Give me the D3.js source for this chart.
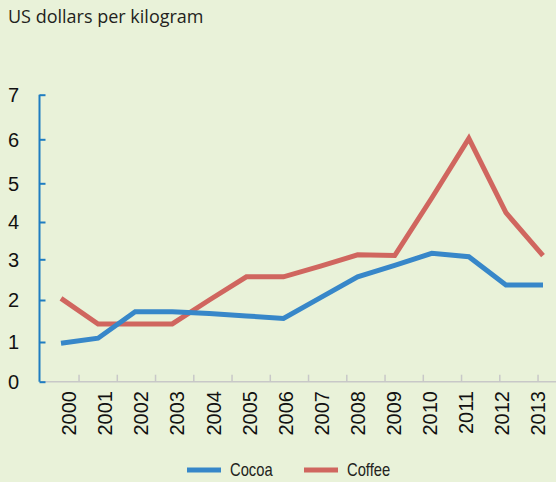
<!DOCTYPE html>
<html>
<head>
<meta charset="utf-8">
<script src="https://cdn.jsdelivr.net/npm/d3@7"></script>
<style>
  body { margin: 0; background: #e9f2d9; }
  svg { display: block; }
</style>
</head>
<body>
<div id="chart"></div>
<script>
var years = ["2000", "2001", "2002", "2003", "2004", "2005", "2006",
             "2007", "2008", "2009", "2010", "2011", "2012", "2013"];
var cocoa = [0.97, 1.09, 1.72, 1.72, 1.68, 1.62, 1.56, 2.06, 2.57, 2.85, 3.16, 3.07, 2.37, 2.37];
var coffee = [2.04, 1.43, 1.43, 1.43, 2.0, 2.57, 2.57, 2.83, 3.12, 3.10, 4.62, 6.02, 4.24, 3.10];
var yTicks = [0, 1, 2, 3, 4, 5, 6, 7];
var seriesNames = ["Cocoa", "Coffee"];

var width = 556, height = 482;

var svg = d3.select("#chart").append("svg")
    .attr("width", width)
    .attr("height", height);

svg.append("rect")
    .attr("width", width)
    .attr("height", height)
    .attr("fill", "#e9f2d9");

// the original axis is not quite evenly spaced, so map each tick to where it sits
var y = d3.scaleLinear()
    .domain(yTicks)
    .range([381.7, 342, 300, 259.3, 222, 183.3, 139.3, 94.7]);

var x = d3.scalePoint()
    .domain(years)
    .range([61, 543]);

// year labels and grey ticks don't line up exactly with the points in the original
var xLabel = d3.scalePoint()
    .domain(years)
    .range([69, 538]);

var xBand = d3.scaleBand()
    .domain(years)
    .range([40.8, 576.3]);

svg.append("text")
    .attr("x", 8)
    .attr("y", 23)
    .style("font-family", "'Open Sans', sans-serif")
    .style("font-size", "18px")
    .attr("fill", "#231f20")
    .text("US dollars per kilogram");

// x axis line + ticks
svg.append("line")
    .attr("x1", 40).attr("x2", width)
    .attr("y1", y(0)).attr("y2", y(0))
    .attr("stroke", "#c8c8c8")
    .attr("stroke-width", 1.5);

svg.append("g")
    .selectAll("line")
    .data(years.slice(1))
    .enter().append("line")
    .attr("x1", function(d) { return xBand(d); })
    .attr("x2", function(d) { return xBand(d); })
    .attr("y1", y(0))
    .attr("y2", y(0) - 7)
    .attr("stroke", "#c8c8c8")
    .attr("stroke-width", 1.5);

svg.append("g")
    .selectAll("text")
    .data(years)
    .enter().append("text")
    .attr("transform", function(d) { return "translate(" + xLabel(d) + "," + 391 + ") rotate(-90)"; })
    .attr("text-anchor", "end")
    .attr("dy", "0.36em")
    .style("font-family", "'Liberation Sans', Arial, sans-serif")
    .style("font-size", "20px")
    .attr("fill", "#111")
    .text(function(d) { return d; });

// y axis
var yAxis = d3.axisRight(y)
    .tickValues(yTicks)
    .tickSize(6)
    .tickFormat("");

var gy = svg.append("g")
    .attr("transform", "translate(39.5,0)")
    .call(yAxis);
gy.select(".domain").attr("stroke", "#1f7dc1").attr("stroke-width", 2)
    .attr("d", "M0," + y(7) + "V" + y(0));
gy.selectAll(".tick line").attr("stroke", "#1f7dc1").attr("stroke-width", 2);

svg.append("g")
    .selectAll("text")
    .data(yTicks)
    .enter().append("text")
    .attr("x", 19)
    .attr("y", function(d) { return y(d); })
    .attr("dy", "0.36em")
    .attr("text-anchor", "end")
    .style("font-family", "'Liberation Sans', Arial, sans-serif")
    .style("font-size", "20px")
    .attr("fill", "#111")
    .text(function(d) { return d; });

var line = d3.line()
    .x(function(d, i) { return x(years[i]); })
    .y(function(d) { return y(d); });

svg.append("path")
    .datum(coffee)
    .attr("fill", "none")
    .attr("stroke", "#d0665f")
    .attr("stroke-width", 5)
    .attr("d", line);

svg.append("path")
    .datum(cocoa)
    .attr("fill", "none")
    .attr("stroke", "#3787c9")
    .attr("stroke-width", 5)
    .attr("d", line);

// legend
var colors = ["#3787c9", "#d0665f"];
var legend = svg.append("g")
    .selectAll("g")
    .data(seriesNames)
    .enter().append("g")
    .attr("transform", function(d, i) { return "translate(" + (187 + i * 117) + ",470)"; });

legend.append("line")
    .attr("x1", 0).attr("x2", 34)
    .attr("stroke", function(d, i) { return colors[i]; })
    .attr("stroke-width", 5);

// condensed look: squeeze the regular face horizontally
legend.append("text")
    .attr("transform", "translate(43,0) scale(0.82,1)")
    .attr("dy", "0.36em")
    .style("font-family", "'Liberation Sans', sans-serif")
    .style("font-size", "18px")
    .attr("fill", "#231f20")
    .text(function(d) { return d; });
</script>
</body>
</html>
